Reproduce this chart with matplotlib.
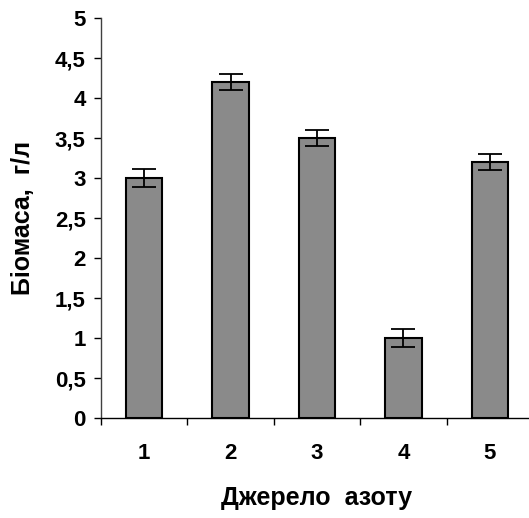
import matplotlib
matplotlib.use("Agg")
import matplotlib.pyplot as plt
import numpy as np

plt.rcParams['font.family'] = ['Liberation Sans', 'DejaVu Sans']

categories = ["1", "2", "3", "4", "5"]
values = [3.0, 4.2, 3.5, 1.0, 3.2]
errors = [0.11, 0.1, 0.1, 0.11, 0.1]
yticks = [0, 0.5, 1, 1.5, 2, 2.5, 3, 3.5, 4, 4.5, 5]
ytick_labels = ["0", "0,5", "1", "1,5", "2", "2,5", "3", "3,5", "4", "4,5", "5"]

fig = plt.figure(figsize=(5.29, 5.18), dpi=100)
ax = fig.add_axes([101/529, 1-418/518, 432/529, 400/518])

x = np.arange(1, len(categories)+1)
ax.bar(x, values, width=0.42, color='#8a8a8a', edgecolor='black', linewidth=1.5, zorder=2)
ax.errorbar(x, values, yerr=errors, fmt='none', ecolor='black', elinewidth=1.3,
            capsize=8.5, capthick=1.3, zorder=3)

ax.set_xlim(0.5, 5.5)
ax.set_ylim(0, 5)
ax.set_yticks(yticks)
ax.set_yticklabels(ytick_labels, fontsize=16, fontweight='bold')
ax.set_xticks(x)
ax.set_xticklabels(categories, fontsize=16, fontweight='bold')
ax.tick_params(axis='x', which='major', length=0, pad=18)
ax.set_xticks(np.arange(0.5, 6.0, 1.0), minor=True)
ax.tick_params(axis='x', which='minor', length=5, width=1, direction='out')
ax.tick_params(axis='y', length=5, width=1, direction='out', pad=6)

for s in ['top', 'right']:
    ax.spines[s].set_visible(False)
ax.spines['left'].set_color('#404040')
ax.spines['bottom'].set_color('black')
ax.spines['left'].set_linewidth(1)
ax.spines['bottom'].set_linewidth(1)

ax.set_xlabel("Джерело  азоту", fontsize=18, fontweight='bold', labelpad=16)
ax.set_ylabel("Біомаса,  г/л", fontsize=18, fontweight='bold', labelpad=14)

fig.savefig("out.png", dpi=100)
